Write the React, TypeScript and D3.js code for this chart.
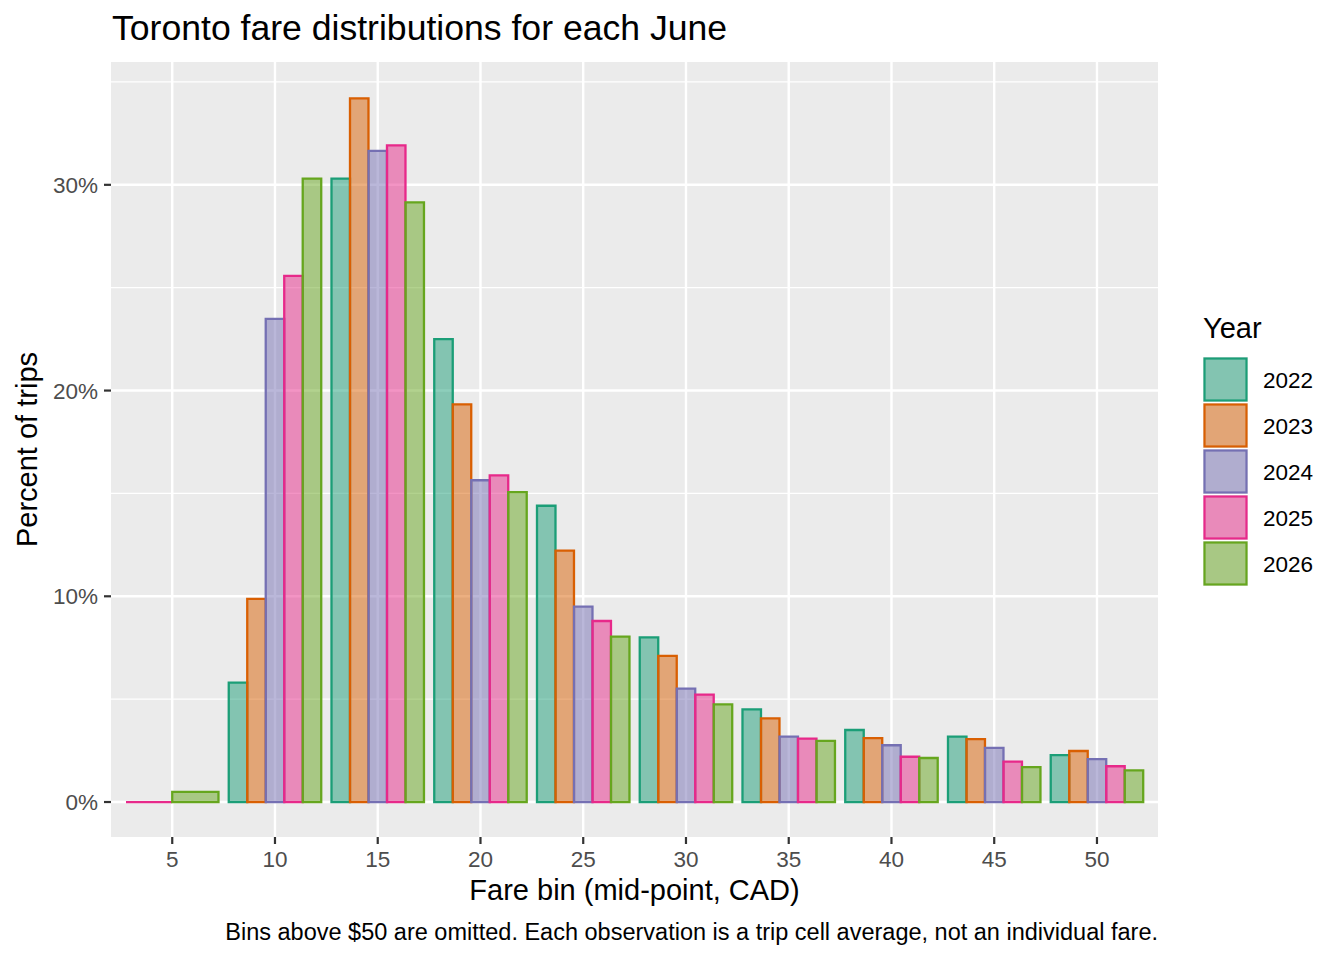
import React, { useEffect } from 'react';
import * as d3 from 'd3';

// fare bins (mid-point, CAD)
const bins = [5, 10, 15, 20, 25, 30, 35, 40, 45, 50];
const years = ['2022', '2023', '2024', '2025', '2026'];
const yearColors = ['#1B9E77', '#D95F02', '#7570B3', '#E7298A', '#66A61E'];

// percent of trips per bin, null = no observation in that bin
const share2022 = [null, 5.8, 30.3, 22.5, 14.4, 8.0, 4.5, 3.5, 3.18, 2.28];
const share2023 = [null, 9.87, 34.2, 19.33, 12.22, 7.1, 4.07, 3.11, 3.06, 2.48];
const share2024 = [null, 23.48, 31.65, 15.64, 9.5, 5.51, 3.18, 2.76, 2.63, 2.09];
const share2025 = [0, 25.57, 31.92, 15.88, 8.8, 5.22, 3.08, 2.2, 1.96, 1.74];
const share2026 = [0.49, 30.3, 29.15, 15.06, 8.04, 4.75, 2.97, 2.14, 1.7, 1.54];
const shares = [share2022, share2023, share2024, share2025, share2026];

const yTicks = [0, 10, 20, 30];
const yMinor = [5, 15, 25, 35];

const font = '"Liberation Sans", Arial, Helvetica, sans-serif';

export default function App() {
  useEffect(() => {
    document.body.style.margin = '0';
  }, []);

  const width = 1344;
  const height = 960;
  const panel = { left: 111, right: 1158, top: 62, bottom: 837 };

  const x = d3.scaleLinear().domain([2.02, 52.97]).range([panel.left, panel.right]);
  const y = d3.scaleLinear().domain([-1.7, 35.97]).range([panel.bottom, panel.top]);

  // dodge like ggplot: bin width 4.5 split between the years present in the bin
  const bars: { x0: number; x1: number; v: number; color: string }[] = [];
  bins.forEach((b, bi) => {
    const present = years.map((_, yi) => yi).filter(yi => shares[yi][bi] !== null);
    const w = 4.5 / present.length;
    present.forEach((yi, k) => {
      const x0 = b - 2.25 + k * w;
      bars.push({ x0, x1: x0 + w, v: shares[yi][bi] as number, color: yearColors[yi] });
    });
  });

  const barPath = (d: { x0: number; x1: number; v: number }) => {
    const path = d3.path();
    path.moveTo(x(d.x0), y(0));
    path.lineTo(x(d.x1), y(0));
    path.lineTo(x(d.x1), y(d.v));
    path.lineTo(x(d.x0), y(d.v));
    path.closePath();
    return path.toString();
  };

  const keyTop = 357;
  const keyStep = 46;

  return (
    <svg width={width} height={height} viewBox={`0 0 ${width} ${height}`}
      style={{ position: 'absolute', left: 0, top: 0, background: '#fff' }}
      fontFamily={font}>
      <rect x={0} y={0} width={width} height={height} fill="#fff" />

      {/* panel */}
      <rect x={panel.left} y={panel.top} width={panel.right - panel.left} height={panel.bottom - panel.top} fill="#EBEBEB" />
      {yMinor.map(t => (
        <line key={'m' + t} x1={panel.left} x2={panel.right} y1={y(t)} y2={y(t)} stroke="#fff" strokeWidth={1.2} />
      ))}
      {yTicks.map(t => (
        <line key={'g' + t} x1={panel.left} x2={panel.right} y1={y(t)} y2={y(t)} stroke="#fff" strokeWidth={2.4} />
      ))}
      {bins.map(b => (
        <line key={'v' + b} x1={x(b)} x2={x(b)} y1={panel.top} y2={panel.bottom} stroke="#fff" strokeWidth={2.4} />
      ))}

      {/* bars */}
      {bars.map((d, i) => (
        <path key={i} d={barPath(d)} fill={d.color} fillOpacity={0.5} stroke={d.color} strokeWidth={2.3} />
      ))}

      {/* y axis */}
      {yTicks.map(t => (
        <g key={'yt' + t}>
          <line x1={panel.left - 7} x2={panel.left} y1={y(t)} y2={y(t)} stroke="#333" strokeWidth={2.2} />
          <text x={panel.left - 13} y={y(t)} dy="0.36em" textAnchor="end" fontSize={22.5} fill="#4D4D4D">{t}%</text>
        </g>
      ))}
      <text transform={`translate(37,${(panel.top + panel.bottom) / 2}) rotate(-90)`} textAnchor="middle" fontSize={29} fill="#000">Percent of trips</text>

      {/* x axis */}
      {bins.map(b => (
        <g key={'xt' + b}>
          <line x1={x(b)} x2={x(b)} y1={panel.bottom} y2={panel.bottom + 7} stroke="#333" strokeWidth={2.2} />
          <text x={x(b)} y={867} textAnchor="middle" fontSize={22.5} fill="#4D4D4D">{b}</text>
        </g>
      ))}
      <text x={(panel.left + panel.right) / 2} y={900} textAnchor="middle" fontSize={29} fill="#000">Fare bin (mid-point, CAD)</text>

      {/* title & caption */}
      <text x={112} y={40} fontSize={35.6} fill="#000">Toronto fare distributions for each June</text>
      <text x={panel.right} y={940} textAnchor="end" fontSize={23.5} fill="#000">Bins above $50 are omitted. Each observation is a trip cell average, not an individual fare.</text>

      {/* legend */}
      <text x={1203} y={338} fontSize={29} fill="#000">Year</text>
      {years.map((yr, i) => (
        <g key={yr}>
          <rect x={1203} y={keyTop + i * keyStep} width={45} height={45} fill="#EBEBEB" />
          <rect x={1204.5} y={keyTop + i * keyStep + 1.5} width={42} height={42} fill={yearColors[i]} fillOpacity={0.5} stroke={yearColors[i]} strokeWidth={2.2} />
          <text x={1263} y={keyTop + i * keyStep + 23} dy="0.36em" fontSize={22.5} fill="#000">{yr}</text>
        </g>
      ))}
    </svg>
  );
}
